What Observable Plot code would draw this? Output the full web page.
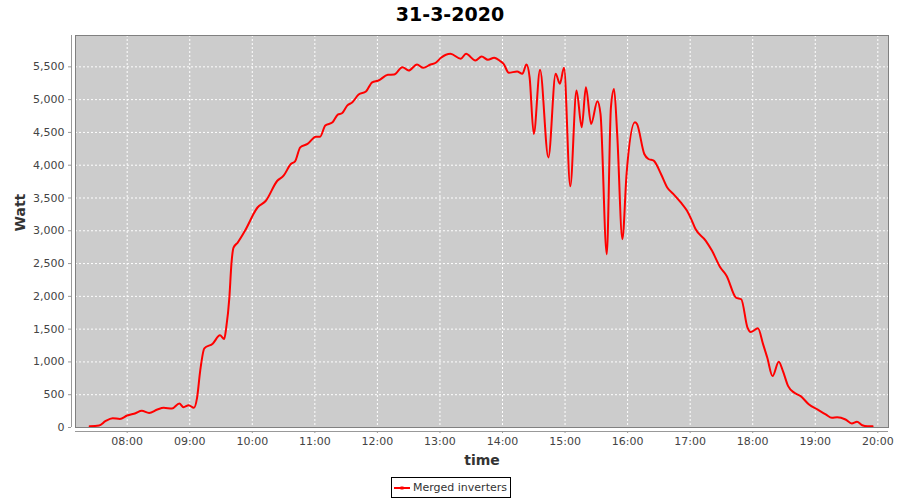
<!DOCTYPE html>
<html>
<head>
<meta charset="utf-8">
<script src="https://cdn.jsdelivr.net/npm/d3@7"></script>
<script src="https://cdn.jsdelivr.net/npm/@observablehq/plot@0.6"></script>
<style>
  body { margin: 0; background: #fff; font-family: "DejaVu Sans", sans-serif; }
  #wrap { position: relative; width: 900px; height: 500px; overflow: hidden; }
  #title { height: 28px; line-height: 28px; text-align: center; font-weight: bold; font-size: 19px; color: #000; }
  #legend { position: absolute; left: 391px; top: 477px; height: 19px; border: 1px solid #000;
            display: flex; align-items: center; padding: 0 3px 0 2px; font-size: 11px; color: #333; background: #fff; }
  #legend svg { margin-right: 3px; }
</style>
</head>
<body>
<div id="wrap">
  <div id="title">31-3-2020</div>
  <div id="chart"></div>
  <div id="legend"><svg width="16" height="8"><line x1="0" y1="4" x2="16" y2="4" stroke="red" stroke-width="2"/><rect x="6.5" y="2.5" width="3" height="3" fill="red"/></svg><span>Merged inverters</span></div>
</div>
<script>
// ---- data ----
const seriesName = "Merged inverters";
const times = [
  "07:24","07:33","07:39","07:46","07:53","08:00","08:08","08:14","08:21","08:29",
  "08:35","08:43","08:50","08:54","08:59","09:04","09:07","09:10","09:14","09:22",
  "09:29","09:33","09:35","09:38","09:40","09:42","09:46","09:53","10:05","10:13",
  "10:24","10:30","10:37","10:41","10:46","10:53","11:01","11:05","11:10","11:17",
  "11:22","11:26","11:31","11:36","11:42","11:49","11:55","12:01","12:10","12:16",
  "12:24","12:30","12:38","12:44","12:51","12:56","13:01","13:10","13:20","13:25",
  "13:34","13:40","13:46","13:52","13:58","14:01","14:06","14:14","14:19","14:23",
  "14:26","14:30","14:36","14:44","14:51","14:55","14:59","15:05","15:11","15:16",
  "15:20","15:25","15:31","15:34","15:40","15:44","15:47","15:50","15:55","15:59",
  "16:07","16:09","16:16","16:20","16:25","16:32","16:38","16:44","16:51","16:57",
  "17:01","17:05","17:15","17:21","17:29","17:35","17:44","17:49","17:55","17:58",
  "18:05","18:10","18:14","18:19","18:25","18:29","18:34","18:40","18:46","18:54",
  "19:02","19:10","19:16","19:21","19:29","19:35","19:40","19:45","19:50","19:55"
];
const watts = [
  20,30,96,142,131,183,218,254,223,275,
  300,290,367,310,340,300,452,860,1207,1278,
  1405,1350,1522,1980,2500,2744,2820,3000,3355,3458,
  3763,3840,4018,4058,4272,4324,4435,4435,4604,4654,
  4772,4792,4909,4960,5077,5123,5265,5291,5378,5383,
  5495,5444,5536,5485,5536,5562,5638,5699,5623,5699,
  5597,5658,5608,5638,5586,5546,5410,5429,5393,5536,
  5341,4477,5455,4119,5393,5241,5485,3680,5138,4578,
  5189,4629,4975,4782,2643,4883,5164,4477,2872,3866,
  4654,4629,4171,4095,4069,3866,3661,3560,3432,3305,
  3178,3030,2847,2694,2439,2312,1980,1956,1522,1456,
  1512,1268,1063,784,1002,860,631,529,478,351,
  275,199,147,157,122,61,86,35,20,20
];
const xTickLabels = ["08:00","09:00","10:00","11:00","12:00","13:00","14:00","15:00","16:00","17:00","18:00","19:00","20:00"];
const yTicks = [0,500,1000,1500,2000,2500,3000,3500,4000,4500,5000,5500];
const xDomainLabels = ["07:10:25","20:10:15"];
const yMax = 5978;

// ---- build ----
const toDate = s => {
  const p = s.split(":").map(Number);
  return new Date(Date.UTC(2020, 2, 31, p[0], p[1], p[2] || 0));
};
const data = times.map((t, i) => ({time: toDate(t), watt: watts[i]}));
const xTicks = xTickLabels.map(toDate);
const xDomain = xDomainLabels.map(toDate);

const gridStyle = {stroke: "#ffffff", strokeOpacity: 1, strokeWidth: 1, strokeDasharray: "2,2"};

const chart = Plot.plot({
  width: 900,
  height: 444,
  marginTop: 7,
  marginLeft: 75,
  marginRight: 12,
  marginBottom: 45,
  style: {fontFamily: "DejaVu Sans", fontSize: "11px", background: "transparent", color: "#444"},
  x: {type: "utc", domain: xDomain},
  y: {domain: [0, yMax]},
  marks: [
    Plot.frame({fill: "#cccccc"}),
    Plot.gridX(xTicks, gridStyle),
    Plot.gridY(yTicks, gridStyle),
    Plot.line(data, {x: "time", y: "watt", stroke: "#ff0000", strokeWidth: 2, curve: "monotone-x"}),
    Plot.frame({stroke: "#808080", strokeWidth: 1}),
    Plot.ruleY([0], {dy: 4, stroke: "#999999"}),
    Plot.ruleX([xDomain[0]], {dx: -4, stroke: "#999999"}),
    Plot.axisX(xTicks, {tickFormat: d3.utcFormat("%H:%M"), tickSize: 2, tickPadding: 4, dy: 4, label: null, stroke: "#999999", fill: "#444"}),
    Plot.axisY(yTicks, {tickFormat: d3.format(","), tickSize: 3, tickPadding: 4, dx: -4, label: null, stroke: "#999999", fill: "#444"}),
    Plot.text(["time"], {frameAnchor: "bottom", dy: 33, fontWeight: "bold", fontSize: 14, fill: "#333", lineAnchor: "middle"}),
    Plot.text(["Watt"], {frameAnchor: "left", dx: -55, rotate: -90, fontWeight: "bold", fontSize: 14, fill: "#333", lineAnchor: "middle"})
  ]
});
document.getElementById("chart").appendChild(chart);
</script>
</body>
</html>
